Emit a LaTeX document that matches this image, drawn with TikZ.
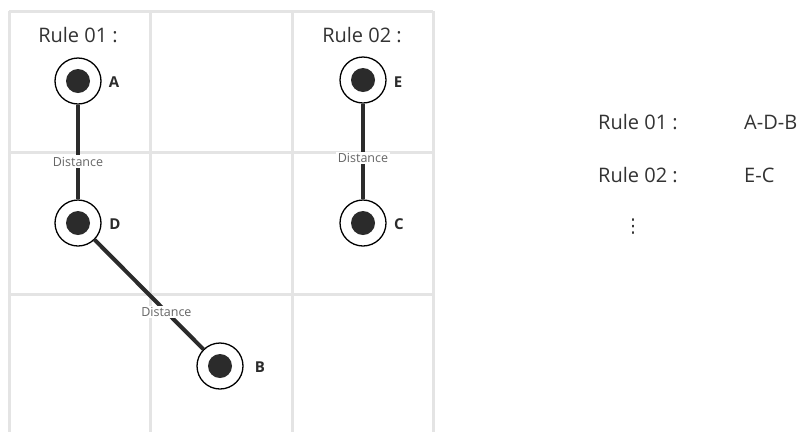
\documentclass[tikz,border=0pt]{standalone}
\usepackage{fontspec}
\setmainfont{Open Sans}
\newfontfamily\symfont{DejaVu Sans}
\definecolor{gridgray}{HTML}{E4E4E4}
\definecolor{ink}{HTML}{2B2B2B}
\definecolor{textgray}{HTML}{333333}
\definecolor{labelgray}{HTML}{666666}
\pgfdeclarelayer{gridlayer}
\pgfsetlayers{gridlayer,main}
\begin{document}
\begin{tikzpicture}[x=1pt,y=-1pt,
  gridline/.style={draw=gridgray, line width=3pt},
  station/.style={circle, draw=black, line width=1.3pt, fill=white,
    minimum size=46pt, inner sep=0pt,
    path picture={\fill[ink] (path picture bounding box.center) circle (12pt);}},
  stationname/.style={font=\bfseries\fontsize{15}{18}\selectfont, text=ink, inner sep=0pt},
  link/.style={draw=ink, line width=4pt},
  distlabel/.style={fill=white, inner sep=1.5pt, text=labelgray,
    font=\fontsize{12.5}{14}\selectfont},
  title/.style={font=\fontsize{20}{24}\selectfont, text=textgray, inner sep=0pt},
]
\useasboundingbox (0,0) rectangle (799,432);

\begin{pgfonlayer}{gridlayer}
\fill[white] (0,0) rectangle (799,432);
% grid of cells
\foreach \gx in {9,150,292,433}
  \draw[gridline] (\gx,11) -- (\gx,432);
\foreach \gy in {11,152,294}
  \draw[gridline] (9,\gy) -- (433,\gy);
\end{pgfonlayer}

% rule titles
\node[title] (t1) at (78,35) {Rule 01 :};
\node[title] (t2) at (362,35) {Rule 02 :};

% stations
\node[station] (A) at (78,81) {};
\node[station] (D) at (78,223) {};
\node[station] (B) at (220,366) {};
\node[station] (E) at (363,80) {};
\node[station] (C) at (363,223) {};

\node[stationname] (lA) at (114,82) {A};
\node[stationname] (lD) at (115,224) {D};
\node[stationname] (lB) at (260,367) {B};
\node[stationname] (lE) at (398,82) {E};
\node[stationname] (lC) at (399,224) {C};

% connections between stations
\draw[link] (A) -- node[distlabel, pos=0.6] (d1) {Distance} (D);
\draw[link] (D) -- node[distlabel, pos=0.66] (d2) {Distance} (B);
\draw[link] (E) -- node[distlabel, pos=0.57] (d3) {Distance} (C);

% rule summary
\node[title, anchor=west] (r1) at (598,122) {Rule 01 :};
\node[title, anchor=west] (p1) at (744,122) {A-D-B};
\node[title, anchor=west] (r2) at (598,175) {Rule 02 :};
\node[title, anchor=west] (p2) at (744,175) {E-C};
\node[text=textgray, font=\symfont\fontsize{19}{22}\selectfont, inner sep=0pt] (dots) at (633,227) {⋮};
\end{tikzpicture}
\end{document}
